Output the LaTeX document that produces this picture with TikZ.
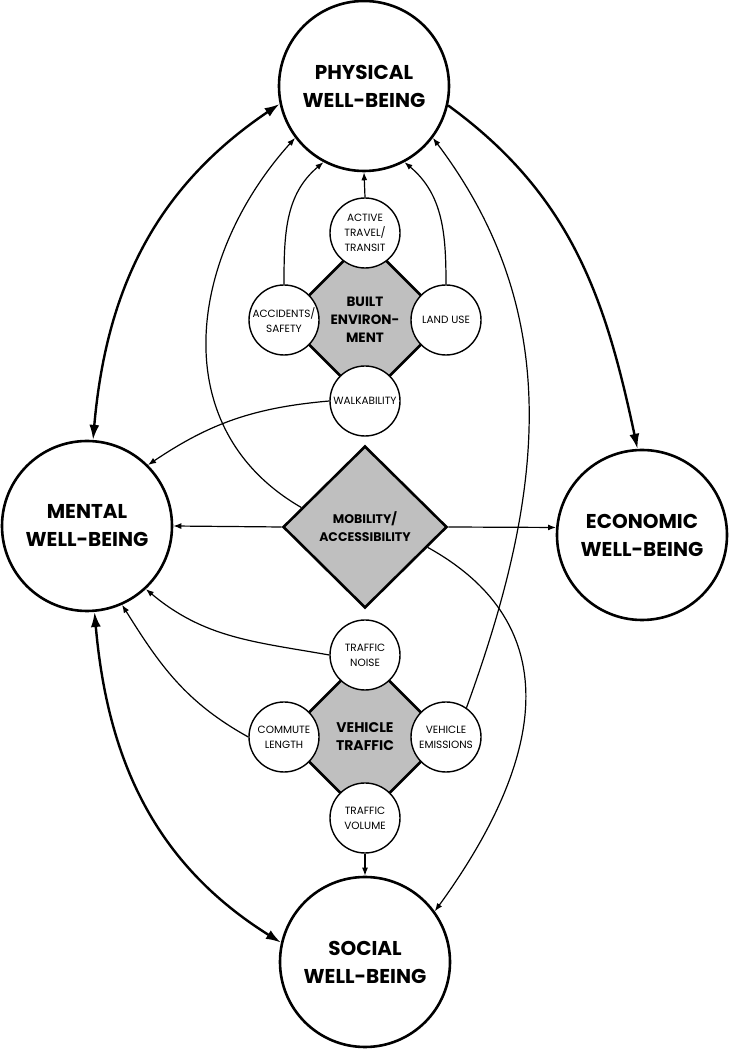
\documentclass[tikz,border=0pt]{standalone}
\usepackage{fontspec}
\setmainfont{Poppins}
\usetikzlibrary{shapes}
\usetikzlibrary{arrows.meta}
\tikzset{
    wellnode/.style = {circle, draw=black, line width=2.6pt, fill=white, align=center, minimum size=170pt, inner sep=0pt, font=\bfseries\fontsize{20}{28}\selectfont},
    factnode/.style = {circle, draw=black, line width=1.4pt, fill=white, align=center, minimum size=70pt, inner sep=0pt, font=\fontsize{10.5}{15}\selectfont},
    hubnode/.style = {diamond, aspect=1, draw=black, line width=2.6pt, fill=gray!50, align=center, inner sep=0pt, minimum width=162pt, minimum height=162pt, font=\bfseries\fontsize{13.5}{18}\selectfont},
    edgen/.style = {-{Latex[length=8pt,width=6pt]}, line width=1.2pt},
    edgek/.style = {-{Latex[length=15pt,width=10pt]}, line width=2.4pt},
    edgekk/.style = {{Latex[length=15pt,width=10pt]}-{Latex[length=15pt,width=10pt]}, line width=2.4pt},
}
\begin{document}
\begin{tikzpicture}[x=1pt,y=1pt]
\useasboundingbox (0,0) rectangle (729,1050);
% hubs
\node[hubnode] at (365,730) (built) {BUILT\\ENVIRON-\\MENT};
\node[hubnode, minimum width=164pt, font=\bfseries\fontsize{12.5}{18}\selectfont] at (365,523) (mob) {MOBILITY/\\ACCESSIBILITY};
\node[hubnode, font=\bfseries\fontsize{14}{18}\selectfont] at (365,313) (veh) {VEHICLE\\TRAFFIC};
% well-being
\node[wellnode] at (364,964) (phys) {PHYSICAL\\WELL-BEING};
\node[wellnode] at (87,524) (ment) {MENTAL\\WELL-BEING};
\node[wellnode] at (642,515) (econ) {ECONOMIC\\WELL-BEING};
\node[wellnode] at (365,88) (soc) {SOCIAL\\WELL-BEING};
% factors
\node[factnode] at (365,817) (active) {ACTIVE\\TRAVEL/\\TRANSIT};
\node[factnode] at (284,730) (accid) {ACCIDENTS/\\SAFETY};
\node[factnode] at (446,730) (landuse) {LAND USE};
\node[factnode] at (365,649) (walk) {WALKABILITY};
\node[factnode] at (365,395) (noise) {TRAFFIC\\NOISE};
\node[factnode] at (284,313) (commute) {COMMUTE\\LENGTH};
\node[factnode] at (446,313) (emiss) {VEHICLE\\EMISSIONS};
\node[factnode] at (365,232) (volume) {TRAFFIC\\VOLUME};
%
\draw[edgekk] (ment.86) to[out=85,in=214] (phys.192);
\draw[edgekk] (ment.275) to[out=-85,in=148] (soc.167);
\draw[edgek] (phys.-13) to[out=-36,in=102] (econ.93);
%
\draw[edgen] (active.north) -- (phys.south);
\draw[edgen] (accid.north) to[out=90,in=220] (phys.242);
\draw[edgen] (landuse.north) to[out=90,in=-40] (phys.298);
\draw[edgen] (walk.west) to[out=185,in=34] (ment.45);
\draw[edgen] (mob.west) -- (ment.east);
\draw[edgen] (mob.east) -- (econ.175);
\draw[edgen] (mob.163) to[out=150,in=228,looseness=1.1] (phys.217);
\draw[edgen] (mob.-18) to[out=-29,in=54,looseness=1.2] (soc.36);
\draw[edgen] (noise.west) to[out=170,in=-40] (ment.-47);
\draw[edgen] (commute.west) to[out=151,in=-58] (ment.-66);
\draw[edgen] (emiss.55) to[out=70,in=-53] (phys.-37);
\draw[edgen] (volume.south) -- (soc.north);
\end{tikzpicture}
\end{document}
